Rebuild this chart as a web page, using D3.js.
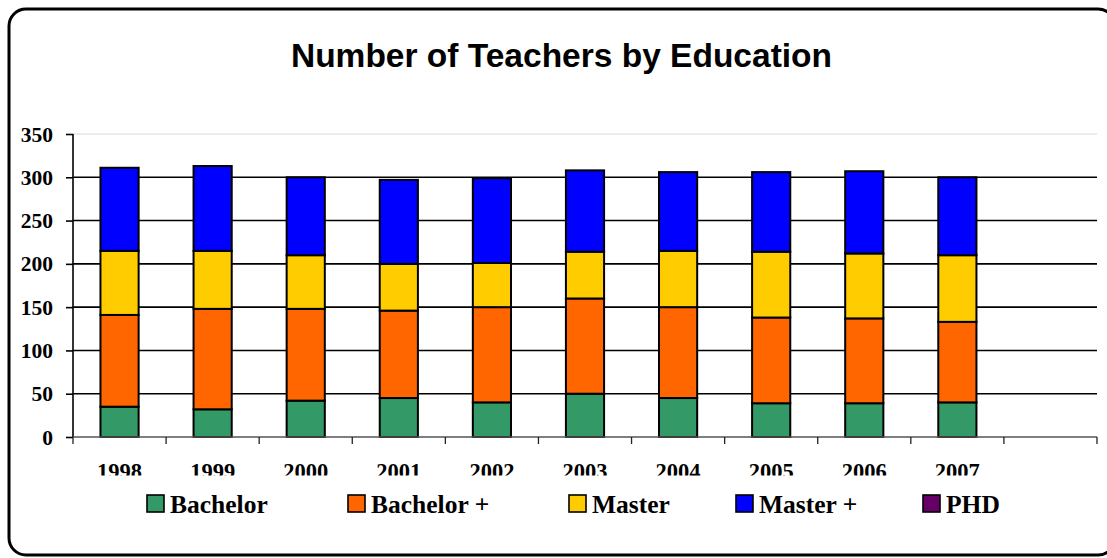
<!DOCTYPE html>
<html>
<head>
<meta charset="utf-8">
<script src="https://cdn.jsdelivr.net/npm/d3@7"></script>
<style>
  html, body { margin: 0; padding: 0; background: #fff; overflow: hidden; }
  svg { display: block; }
</style>
</head>
<body>
<div id="chart"></div>
<script>
// Number of Teachers by Education
const years = ["1998", "1999", "2000", "2001", "2002", "2003", "2004", "2005", "2006", "2007"];
const seriesNames = ["Bachelor", "Bachelor +", "Master", "Master +", "PHD"];
const seriesColors = ["#339966", "#FF6600", "#FFCC00", "#0000FF", "#660066"];
const bachelor     = [35, 32, 42, 45, 40, 50, 45, 39, 39, 40];
const bachelorPlus = [106, 116, 106, 101, 110, 110, 105, 99, 98, 93];
const master       = [74, 67, 62, 54, 51, 54, 65, 76, 75, 77];
const masterPlus   = [96, 98, 90, 97, 98, 94, 91, 92, 95, 90];
const phd          = [0, 0, 0, 0, 0, 0, 0, 0, 0, 0];
const yTicks = [0, 50, 100, 150, 200, 250, 300, 350];

{
    const W = 1107, H = 558;
    const plot = { left: 73, right: 1097, top: 134, bottom: 437 };
    const serif = "'Times New Roman', 'Liberation Serif', serif";
    const legendX = [147, 348, 569, 736, 923];

    const svg = d3.select("#chart").append("svg")
        .attr("width", W)
        .attr("height", H);

    // rounded frame (runs off the right edge like the source)
    svg.append("rect")
        .attr("x", 9).attr("y", 9)
        .attr("width", 1106).attr("height", 546)
        .attr("rx", 17).attr("ry", 17)
        .attr("fill", "#fff")
        .attr("stroke", "#000")
        .attr("stroke-width", 3);

    svg.append("text")
        .attr("x", 561.5).attr("y", 67)
        .attr("text-anchor", "middle")
        .style("font-family", "Arial, 'Liberation Sans', sans-serif")
        .style("font-weight", "bold")
        .style("font-size", "33.5px")
        .text("Number of Teachers by Education");

    // 10 years plus one empty slot at the end
    const slots = years.concat([""]);
    const slot = d3.scaleBand().domain(slots).range([plot.left, plot.right]);
    const x = d3.scaleBand().domain(slots).range([plot.left, plot.right])
        .paddingInner(0.59).paddingOuter(0.295);
    const y = d3.scaleLinear().domain([0, 350]).range([plot.bottom, plot.top]);

    // gridlines
    svg.append("g").selectAll("line")
        .data(yTicks.filter(d => d > 0))
        .join("line")
        .attr("x1", plot.left).attr("x2", plot.right)
        .attr("y1", d => y(d)).attr("y2", d => y(d))
        .attr("stroke", d => d === 350 ? "#d8d8d8" : "#000")
        .attr("stroke-width", d => d === 350 ? 1 : 1.6);

    // stacked data
    const table = years.map((yr, i) => ({
        year: yr,
        "Bachelor": bachelor[i],
        "Bachelor +": bachelorPlus[i],
        "Master": master[i],
        "Master +": masterPlus[i],
        "PHD": phd[i]
    }));
    const stacked = d3.stack().keys(seriesNames)(table);
    const color = d3.scaleOrdinal().domain(seriesNames).range(seriesColors);

    svg.append("g").selectAll("g")
        .data(stacked)
        .join("g")
        .attr("fill", d => color(d.key))
        .selectAll("rect")
        .data(d => d.filter(s => s[1] - s[0] > 0))
        .join("rect")
        .attr("x", d => x(d.data.year))
        .attr("width", x.bandwidth())
        .attr("y", d => y(d[1]))
        .attr("height", d => y(d[0]) - y(d[1]))
        .attr("stroke", "#000")
        .attr("stroke-width", 2);

    // y axis
    const yAxis = svg.append("g")
        .attr("transform", `translate(${plot.left},0)`)
        .call(d3.axisLeft(y).tickValues(yTicks).tickSize(7).tickPadding(13));
    yAxis.select(".domain").attr("stroke", "#000").attr("stroke-width", 1.6)
        .attr("d", `M0,${plot.top}V${plot.bottom}`);
    yAxis.selectAll(".tick line").attr("stroke", "#000").attr("stroke-width", 1.6);
    yAxis.selectAll(".tick text")
        .attr("dy", "0.33em")
        .style("font-family", serif)
        .style("font-weight", "bold")
        .style("font-size", "21.5px")
        .attr("fill", "#000");

    // x axis line and ticks at slot boundaries
    const xg = svg.append("g");
    xg.append("line")
        .attr("x1", plot.left).attr("x2", plot.right)
        .attr("y1", plot.bottom).attr("y2", plot.bottom)
        .attr("stroke", "#555").attr("stroke-width", 1.6);
    const bounds = slots.map(d => slot(d)).concat([plot.right]);
    xg.selectAll("line.tk")
        .data(bounds)
        .join("line")
        .attr("class", "tk")
        .attr("x1", d => d).attr("x2", d => d)
        .attr("y1", plot.bottom).attr("y2", plot.bottom + 7)
        .attr("stroke", "#222").attr("stroke-width", 1.3);

    // year labels (clipped at the bottom, as in the source)
    svg.append("clipPath").attr("id", "lblclip")
        .append("rect").attr("x", 0).attr("y", 440).attr("width", W).attr("height", 35.5);
    svg.append("g").attr("clip-path", "url(#lblclip)")
        .selectAll("text")
        .data(years)
        .join("text")
        .attr("x", d => x(d) + x.bandwidth() / 2)
        .attr("y", 479)
        .attr("text-anchor", "middle")
        .style("font-family", serif)
        .style("font-weight", "bold")
        .style("font-size", "22.5px")
        .text(d => d);

    // legend
    const legend = svg.append("g").selectAll("g")
        .data(seriesNames)
        .join("g")
        .attr("transform", (d, i) => `translate(${legendX[i]},0)`);
    legend.append("rect")
        .attr("x", 0).attr("y", 495)
        .attr("width", 17).attr("height", 17)
        .attr("fill", d => color(d))
        .attr("stroke", "#000").attr("stroke-width", 1.6);
    legend.append("text")
        .attr("x", 23).attr("y", 513)
        .style("font-family", serif)
        .style("font-weight", "bold")
        .style("font-size", "25.5px")
        .text(d => d);
}
</script>
</body>
</html>
